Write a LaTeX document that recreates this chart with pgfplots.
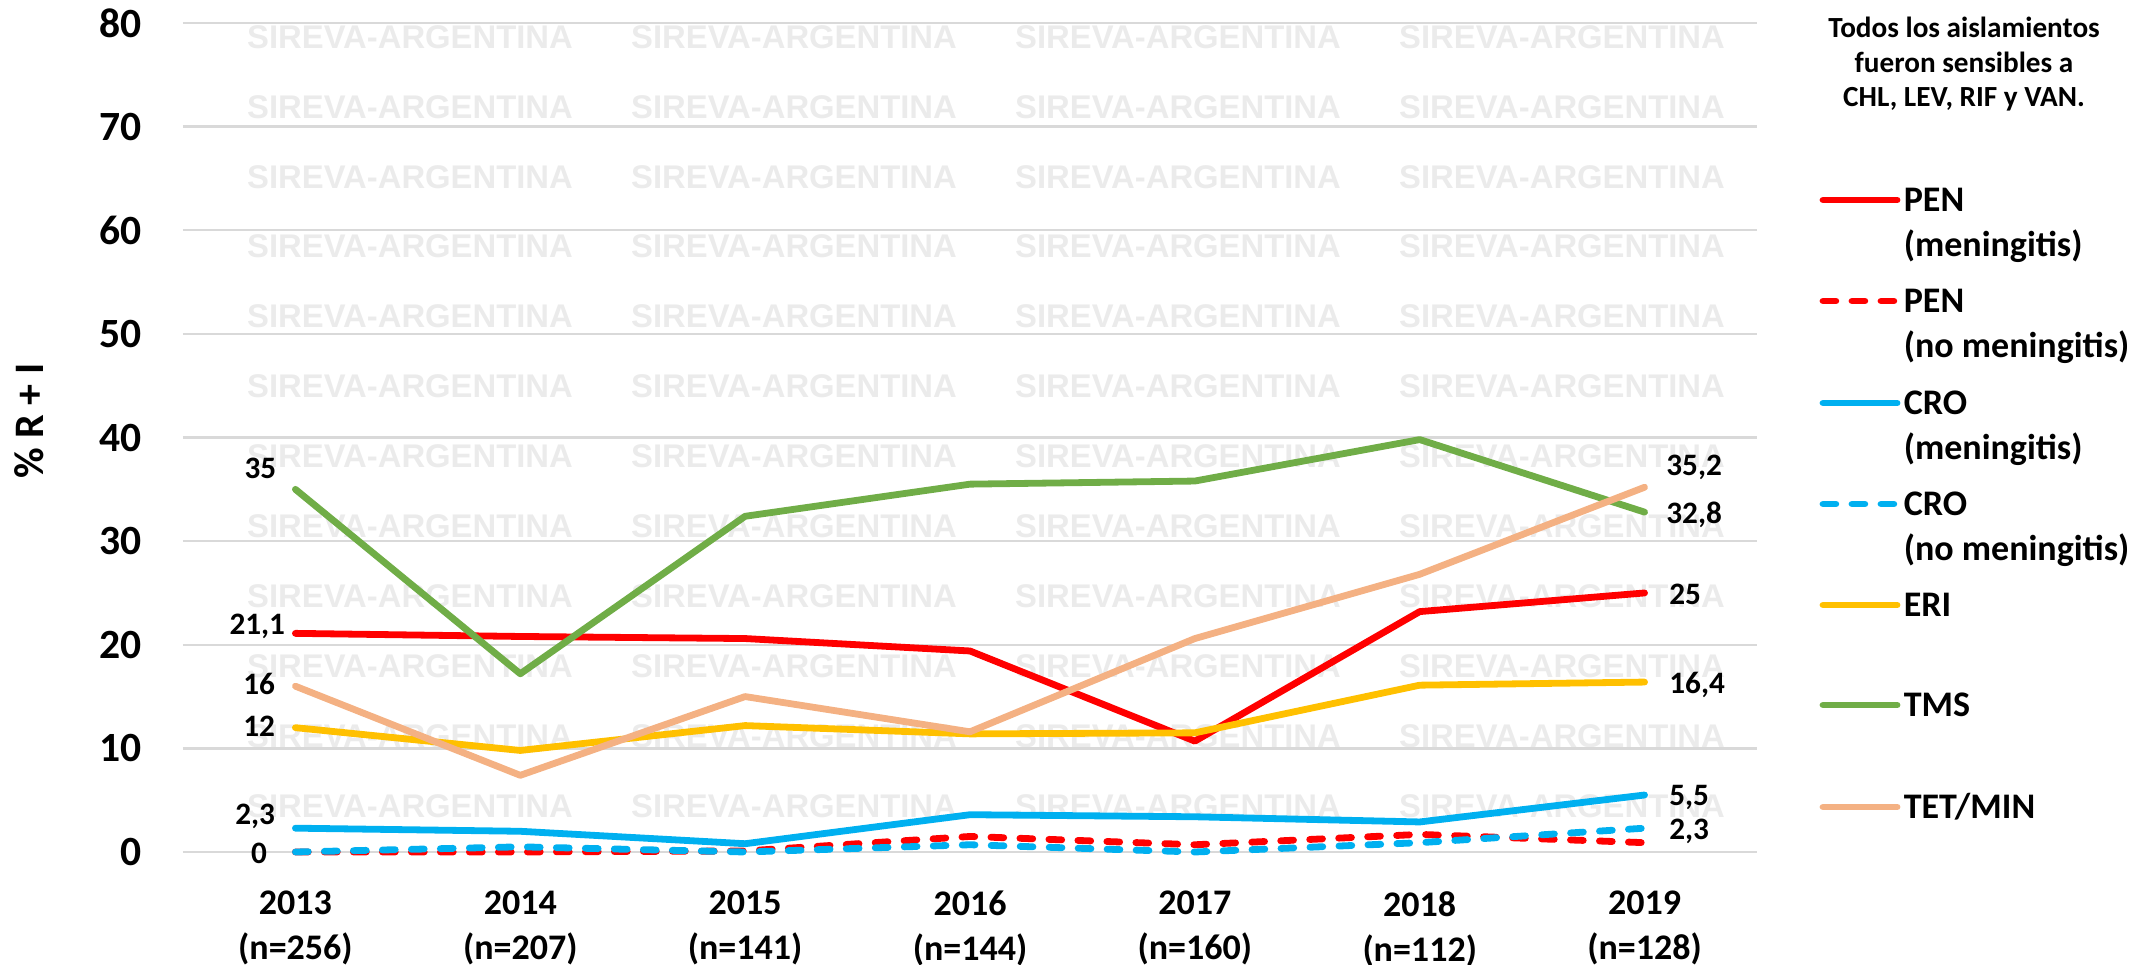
\documentclass[border=0pt]{standalone}
\usepackage{fontspec}
\setmainfont{Carlito}
\newfontfamily\wmfont{Liberation Sans}
\usepackage{pgfplots}
\pgfplotsset{compat=1.18}
\definecolor{cPEN}{HTML}{FF0000}
\definecolor{cCRO}{HTML}{00B0F0}
\definecolor{cERI}{HTML}{FFC000}
\definecolor{cTMS}{HTML}{70AD47}
\definecolor{cTET}{HTML}{F4B183}
\definecolor{gridc}{HTML}{D9D9D9}
\definecolor{wmc}{HTML}{EBEBEB}
\pgfplotstableread{
x PENm PENn CROm CROn ERI TMS TET
0 21.1 0.0 2.3 0.0 12.0 35.0 16.0
1 20.8 0.0 2.0 0.5 9.8 17.2 7.4
2 20.6 0.1 0.8 0.0 12.2 32.4 15.0
3 19.4 1.5 3.6 0.7 11.4 35.5 11.6
4 10.7 0.7 3.4 0.0 11.5 35.8 20.6
5 23.2 1.7 2.9 0.9 16.1 39.8 26.8
6 25.0 0.9 5.5 2.3 16.4 32.8 35.2
}\datatable
\tikzset{
  ser/.style={line width=1.7pt, line cap=round, line join=round},
  dsh/.style={dash pattern=on 3.2pt off 4.05pt},
  dl/.style={font=\fontsize{7.8}{9}\selectfont\bfseries, inner sep=0pt},
  lg/.style={font=\fontsize{9}{11}\selectfont\bfseries, inner sep=0pt, anchor=base west},
}
\begin{document}
\begin{tikzpicture}
\path[use as bounding box] (-45.75pt,-28pt) rectangle (491.5pt,213pt);
% watermark
\foreach \k in {0,...,11}{
  \foreach \xx in {56.75,152.75,248.75,344.75}{
    \node[font=\wmfont\bfseries\fontsize{8.2}{9}\selectfont, text=wmc, inner sep=0pt] at (\xx pt, 203.75pt-17.475pt*\k) {SIREVA-ARGENTINA};
  }
}
\begin{axis}[
  scale only axis, width=393.5pt, height=207.25pt,
  xmin=-0.5, xmax=6.5, ymin=0, ymax=80,
  xtick={0,...,6},
  xticklabels={{2013\\(n=256)},{2014\\(n=207)},{2015\\(n=141)},{2016\\(n=144)},{2017\\(n=160)},{2018\\(n=112)},{2019\\(n=128)}},
  ytick={0,10,...,80},
  ymajorgrids, grid style={color=gridc, line width=0.6pt},
  axis line style={draw=none}, major tick style={draw=none},
  yticklabel style={font=\fontsize{10.4}{12}\selectfont\bfseries, inner sep=0pt, anchor=east, xshift=-10.25pt},
  xticklabel style={font=\fontsize{9}{11.25}\selectfont\bfseries, align=center, inner sep=0pt, anchor=north, yshift=-9.6pt},
  ylabel={\% R + I},
  ylabel style={font=\fontsize{10.5}{12}\selectfont\bfseries, at={(axis description cs:-0.0978,0.52)}, anchor=center},
  clip=false,
  /pgf/number format/assume math mode=true,
]
\addplot[ser, cPEN] table[x=x, y=PENm] {\datatable};
\addplot[ser, dsh, cPEN] table[x=x, y=PENn] {\datatable};
\addplot[ser, cCRO] table[x=x, y=CROm] {\datatable};
\addplot[ser, dsh, cCRO] table[x=x, y=CROn] {\datatable};
\addplot[ser, cERI] table[x=x, y=ERI] {\datatable};
\addplot[ser, cTMS] table[x=x, y=TMS] {\datatable};
\addplot[ser, cTET] table[x=x, y=TET] {\datatable};
% left data labels
\node[dl, anchor=east, xshift=-4.6pt] at (axis cs:0,37.0) {35};
\node[dl, anchor=east, xshift=-2.4pt] at (axis cs:0,21.8) {21,1};
\node[dl, anchor=east, xshift=-4.9pt] at (axis cs:0,16.2) {16};
\node[dl, anchor=east, xshift=-4.9pt] at (axis cs:0,12.1) {12};
\node[dl, anchor=east, xshift=-4.9pt] at (axis cs:0,3.4) {2,3};
\node[dl, anchor=east, xshift=-6.9pt] at (axis cs:0,-0.1) {0};
% right data labels
\node[dl, anchor=west, xshift=5.25pt] at (axis cs:6,37.1) {35,2};
\node[dl, anchor=west, xshift=5.25pt] at (axis cs:6,32.5) {32,8};
\node[dl, anchor=west, xshift=6pt] at (axis cs:6,24.9) {25};
\node[dl, anchor=west, xshift=6pt] at (axis cs:6,16.1) {16,4};
\node[dl, anchor=west, xshift=6pt] at (axis cs:6,5.3) {5,5};
\node[dl, anchor=west, xshift=6pt] at (axis cs:6,2.0) {2,3};
\end{axis}
% legend title
\node[font=\fontsize{7.3}{8.6}\selectfont\bfseries, align=center, inner sep=0pt] at (445.25pt,196.9pt) {Todos los aislamientos\\fueron sensibles a\\CHL, LEV, RIF y VAN.};
% legend
\draw[ser, cPEN] (410pt,163pt) -- (428.5pt,163pt);
\node[lg] at (430pt,160.1pt) {PEN};
\node[lg] at (430pt,148.85pt) {(meningitis)};
\draw[ser, dsh, cPEN] (410pt,137.75pt) -- (428.5pt,137.75pt);
\node[lg] at (430pt,134.85pt) {PEN};
\node[lg] at (430pt,123.6pt) {(no meningitis)};
\draw[ser, cCRO] (410pt,112.25pt) -- (428.5pt,112.25pt);
\node[lg] at (430pt,109.35pt) {CRO};
\node[lg] at (430pt,98.1pt) {(meningitis)};
\draw[ser, dsh, cCRO] (410pt,87pt) -- (428.5pt,87pt);
\node[lg] at (430pt,84.1pt) {CRO};
\node[lg] at (430pt,72.85pt) {(no meningitis)};
\draw[ser, cERI] (410pt,61.75pt) -- (428.5pt,61.75pt);
\node[lg] at (430pt,58.85pt) {ERI};
\draw[ser, cTMS] (410pt,36.75pt) -- (428.5pt,36.75pt);
\node[lg] at (430pt,33.85pt) {TMS};
\draw[ser, cTET] (410pt,11.25pt) -- (428.5pt,11.25pt);
\node[lg] at (430pt,8.35pt) {TET/MIN};
\end{tikzpicture}
\end{document}
